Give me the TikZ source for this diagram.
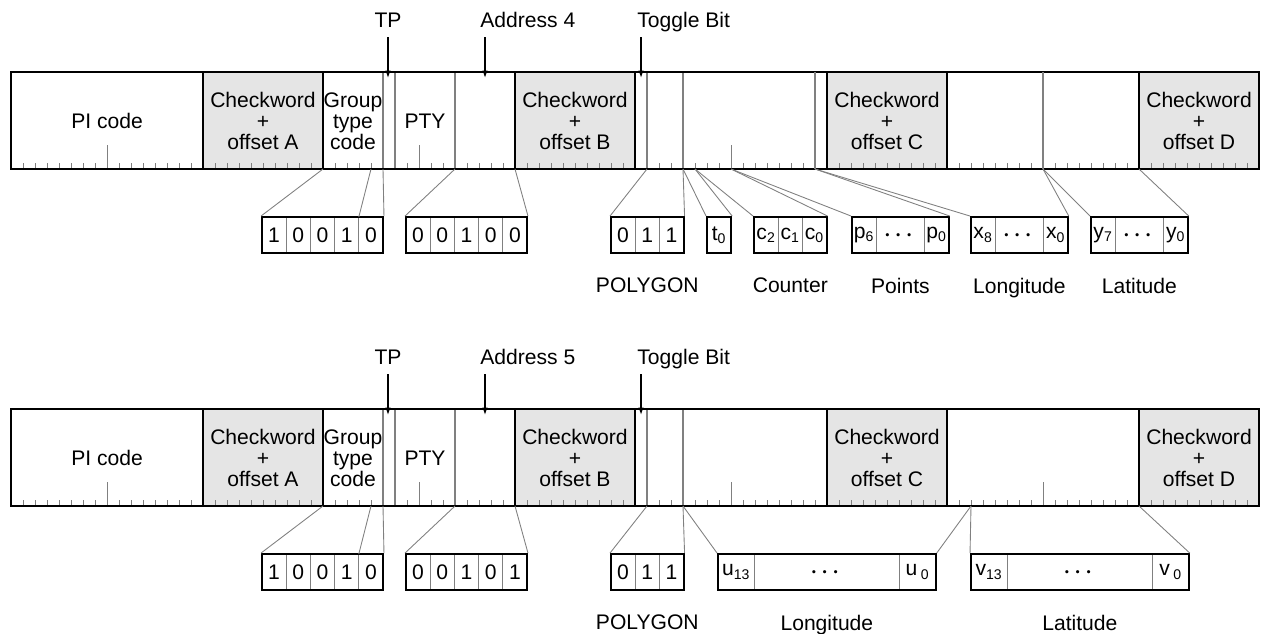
\documentclass[tikz,border=0pt]{standalone}
\usepackage{amsmath}
\usepackage{fontspec}
\setmainfont{Liberation Sans}
\usetikzlibrary{arrows.meta,positioning,fit}

\definecolor{ckgray}{gray}{0.9}
\definecolor{thingray}{gray}{0.5}

\tikzset{
  barline/.style={line width=1pt},
  blockline/.style={line width=1.5pt},
  sepline/.style={thingray, line width=0.6pt},
  tick/.style={thingray, line width=0.55pt},
  link/.style={thingray, line width=0.5pt},
  cell/.style={draw=thingray, line width=0.5pt, minimum width=0.484cm,
    minimum height=0.72cm, inner sep=0pt, outer sep=0pt},
  widecell/.style={minimum width=0.968cm},
  halfcell/.style={minimum width=0.726cm},
  longcell/.style={minimum width=2.904cm},
  boxframe/.style={draw, line width=1.1pt, inner sep=0pt},
  field/.style={align=center, inner sep=0pt},
  lab/.style={inner sep=0pt, text depth=0pt},
  pointer/.style={-{Latex[length=1.5mm,width=1.1mm]}, line width=0.8pt},
}

\begin{document}
\begin{tikzpicture}[x=0.02cm, y=-0.02cm, font=\fontsize{12}{12}\selectfont]
\useasboundingbox (0,0) rectangle (1261,633);

% both groups share the block layout
\foreach \dg/\dy/\addr/\lastbit in {a/0/4/0, b/337/5/1} {
\begin{scope}[shift={(0,\dy)}]

% blocks, ticks, separators
\foreach \s in {16,42,68,94}
  \fill[ckgray] ({11+12*\s},72) rectangle ({11+12*(\s+10)},169);
\foreach \i in {0,...,104}
  \coordinate (\dg\i) at ({11+12*\i},169);
\foreach \i in {1,...,103}
  \draw[tick] (\dg\i) -- ++(0,-6.5);
\foreach \i in {8,34,60,86}
  \draw[tick] (\dg\i) -- ++(0,-24);
\foreach \i in {31,32,37,53,56}
  \draw[sepline] (\dg\i) -- ++(0,-97);
\foreach \i in {16,26,42,52,68,78,94}
  \draw[blockline] (\dg\i) -- ++(0,-97);
\draw[barline] (\dg0) rectangle ++(1248,-97);

\node[field] (pi\dg) at (107,121) {PI code};
\node[field] (cka\dg) at (263,121) {Checkword\\+\\offset A};
\node[field] (grp\dg) at (353,121) {Group\\type\\code};
\node[field] (pty\dg) at (425,121) {PTY};
\node[field] (ckb\dg) at (575,121) {Checkword\\+\\offset B};
\node[field] (ckc\dg) at (887,121) {Checkword\\+\\offset C};
\node[field] (ckd\dg) at (1199,121) {Checkword\\+\\offset D};

% pointers
\coordinate (tptop\dg) at (388,37);
\coordinate (tpend\dg) at (388,78);
\coordinate (adtop\dg) at (485,37);
\coordinate (adend\dg) at (485,78);
\coordinate (tgtop\dg) at (641,37);
\coordinate (tgend\dg) at (641,78);
\node[lab, above=5pt of tptop\dg] (tp\dg) {TP};
\node[lab, above right=5pt and -0.1cm of adtop\dg] (adl\dg) {Address \addr};
\node[lab, above right=5pt and -0.08cm of tgtop\dg] (tgl\dg) {Toggle Bit};
\draw[pointer] (tptop\dg) -- (tpend\dg);
\draw[pointer] (adtop\dg) -- (adend\dg);
\draw[pointer] (tgtop\dg) -- (tgend\dg);

% group type, address, polygon
\foreach \v [count=\k] in {1,0,0,1,0}
  \node[cell] (gtc\dg\k) at ({262+24.2*(\k-0.5)},235) {\v};
\node[boxframe, fit=(gtc\dg1)(gtc\dg5)] (gt\dg) {};
\foreach \v [count=\k] in {0,0,1,0,\lastbit}
  \node[cell] (adc\dg\k) at ({406+24.2*(\k-0.5)},235) {\v};
\node[boxframe, fit=(adc\dg1)(adc\dg5)] (adb\dg) {};
\foreach \v [count=\k] in {0,1,1}
  \node[cell] (pgc\dg\k) at ({611+24.2*(\k-0.5)},235) {\v};
\node[boxframe, fit=(pgc\dg1)(pgc\dg3)] (pg\dg) {};
\node[lab, below=0.47cm of pg\dg] (pgl\dg) {POLYGON};

\draw[link] (\dg26) -- (gt\dg.north west);
\draw[link] (\dg30) -- (gtc\dg5.north west);
\draw[link] (\dg31) -- (gt\dg.north east);
\draw[link] (\dg37) -- (adb\dg.north west);
\draw[link] (\dg42) -- (adb\dg.north east);
\draw[link] (\dg53) -- (pg\dg.north west);
\draw[link] (\dg56) -- (pg\dg.north east);
\end{scope}
}

% group a: counter, points, corner
\foreach \i in {67,86}
  \draw[sepline] (a\i) -- ++(0,-97);

\node[cell] (t0c) at (719.1,235) {t\textsubscript{0}};
\node[boxframe, fit=(t0c)] (t0) {};
\node[cell] (ct1) at (766.1,235) {c\textsubscript{2}};
\node[cell, right=0pt of ct1] (ct2) {c\textsubscript{1}};
\node[cell, right=0pt of ct2] (ct3) {c\textsubscript{0}};
\node[boxframe, fit=(ct1)(ct3)] (ct) {};
\node[cell] (pt1) at (864.1,235) {p\textsubscript{6}};
\node[cell, widecell, right=0pt of pt1] (pt2) {$\boldsymbol{\cdots}$};
\node[cell, right=0pt of pt2] (pt3) {p\textsubscript{0}};
\node[boxframe, fit=(pt1)(pt3)] (pt) {};
\node[cell] (lo1) at (983.1,235) {x\textsubscript{8}};
\node[cell, widecell, right=0pt of lo1] (lo2) {$\boldsymbol{\cdots}$};
\node[cell, right=0pt of lo2] (lo3) {x\textsubscript{0}};
\node[boxframe, fit=(lo1)(lo3)] (lo) {};
\node[cell] (la1) at (1103.1,235) {y\textsubscript{7}};
\node[cell, widecell, right=0pt of la1] (la2) {$\boldsymbol{\cdots}$};
\node[cell, right=0pt of la2] (la3) {y\textsubscript{0}};
\node[boxframe, fit=(la1)(la3)] (la) {};

\node[lab, below=0.47cm of ct] (ctl) {Counter};
\node[lab, below=0.47cm of pt] (ptl) {Points};
\node[lab, below=0.47cm of lo] (lol) {Longitude};
\node[lab, below=0.47cm of la] (lal) {Latitude};

\draw[link] (a56) -- (t0.north west);
\draw[link] (a57) -- (t0.north east);
\draw[link] (a57) -- (ct.north west);
\draw[link] (a60) -- (ct.north east);
\draw[link] (a60) -- (pt.north west);
\draw[link] (a67) -- (pt.north east);
\draw[link] (a67) -- (lo.north west);
\draw[link] (a86) -- (lo.north east);
\draw[link] (a86) -- (la.north west);
\draw[link] (a94) -- (la.north east);

% group b: longitude and latitude
\node[cell, halfcell] (ul1) at (736.15,572) {u\textsubscript{13}};
\node[cell, longcell, right=0pt of ul1] (ul2) {$\boldsymbol{\cdots}$};
\node[cell, halfcell, right=0pt of ul2] (ul3) {u\,\textsubscript{0}};
\node[boxframe, fit=(ul1)(ul3)] (ulon) {};
\node[cell, halfcell] (vl1) at (989.15,572) {v\textsubscript{13}};
\node[cell, longcell, right=0pt of vl1] (vl2) {$\boldsymbol{\cdots}$};
\node[cell, halfcell, right=0pt of vl2] (vl3) {v\,\textsubscript{0}};
\node[boxframe, fit=(vl1)(vl3)] (vlat) {};

\node[lab, below=0.47cm of ulon] (ulonl) {Longitude};
\node[lab, below=0.47cm of vlat] (vlatl) {Latitude};

\draw[link] (b56) -- (ulon.north west);
\draw[link] (b80) -- (ulon.north east);
\draw[link] (b80) -- (vlat.north west);
\draw[link] (b94) -- (vlat.north east);

\end{tikzpicture}
\end{document}
